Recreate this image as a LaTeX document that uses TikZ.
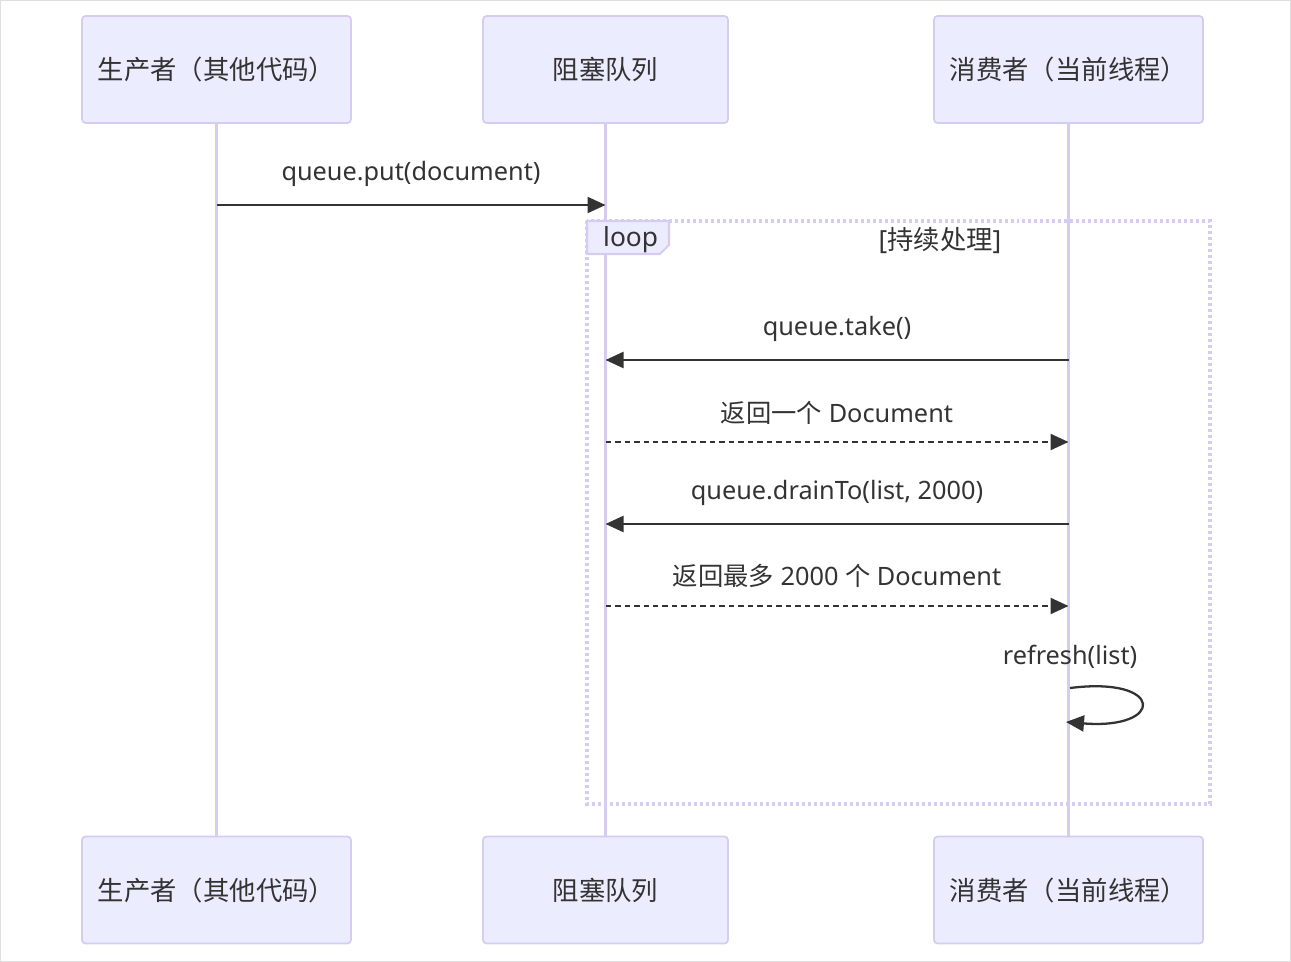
\documentclass[tikz,border=0pt]{standalone}
\usepackage{fontspec}
\setmainfont{Noto Sans}
\newfontfamily\cjk{Noto Sans CJK SC}
\usetikzlibrary{arrows.meta}
\definecolor{actfill}{HTML}{ECECFF}
\definecolor{actline}{HTML}{D6CBF1}
\definecolor{txt}{HTML}{333333}

\begin{document}
\begin{tikzpicture}[x=0.02cm,y=-0.02cm,>={Triangle[length=0.36cm,width=0.32cm]},font=\fontsize{14.4}{16}\selectfont,text=txt,
    actor/.style={draw=actline,fill=actfill,line width=1pt,rounded corners=2pt,minimum width=#1,minimum height=2.14cm,font=\cjk\fontsize{15}{17}\selectfont},
    life/.style={draw=actline,line width=1.4pt},
    msg/.style={->,draw=txt,line width=1.3pt},
    reply/.style={msg,dash pattern=on 0.11cm off 0.08cm},
    mlabel/.style={text=txt}]

    \useasboundingbox (0,0) rectangle (1291,962);
    \draw[gray!25] (0.5,0.5) rectangle (1290.5,961.5);

    % actors
    \node[actor=5.38cm] (prodT) at (216.5,69.5) {生产者（其他代码）};
    \node[actor=4.9cm] (queT) at (605.5,69.5) {阻塞队列};
    \node[actor=5.38cm] (consT) at (1068.5,69.5) {消费者（当前线程）};
    \node[actor=5.38cm] (prodB) at (216.5,890) {生产者（其他代码）};
    \node[actor=4.9cm] (queB) at (605.5,890) {阻塞队列};
    \node[actor=5.38cm] (consB) at (1068.5,890) {消费者（当前线程）};

    % lifelines
    \draw[life] (prodT) -- (prodB);
    \draw[life] (queT) -- (queB);
    \draw[life] (consT) -- (consB);

    % loop frame
    \draw[actline,line width=2pt,dash pattern=on 0.06cm off 0.06cm] (587,221) rectangle (1210,804);
    \filldraw[fill=actfill,draw=actline,line width=1.2pt] (587,221) -- (669,221) -- (669,245) -- (660,254) -- (587,254) -- cycle;
    \node[anchor=west] (looplbl) at (597,240) {\fontsize{15}{17}\selectfont loop};
    \node (loopcond) at (940,241) {\fontsize{15}{17}\selectfont [{\cjk 持续处理}]};

    % messages
    \coordinate (m1) at (0,205);
    \coordinate (m2) at (0,360);
    \coordinate (m3) at (0,442);
    \coordinate (m4) at (0,524);
    \coordinate (m5) at (0,606);

    \draw[msg] (prodT.south |- m1) -- (queT.south |- m1) node[mlabel,midway,above=0.22cm] {queue.put(document)};
    \draw[msg] (consT.south |- m2) -- (queT.south |- m2) node[mlabel,midway,above=0.22cm] {queue.take()};
    \draw[reply] (queT.south |- m3) -- (consT.south |- m3) node[mlabel,midway,above=0.22cm] {{\cjk 返回一个} Document};
    \draw[msg] (consT.south |- m4) -- (queT.south |- m4) node[mlabel,midway,above=0.22cm] {queue.drainTo(list, 2000)};
    \draw[reply] (queT.south |- m5) -- (consT.south |- m5) node[mlabel,midway,above=0.22cm] {{\cjk 返回最多} 2000 {\cjk 个} Document};

    % self message
    \coordinate (s1) at (1070,688);
    \coordinate (s2) at (1066,722);
    \node (selflbl) at (1070,657) {refresh(list)};
    \draw[msg] (s1) .. controls (1165,676) and (1165,730) .. (s2);
\end{tikzpicture}
\end{document}
